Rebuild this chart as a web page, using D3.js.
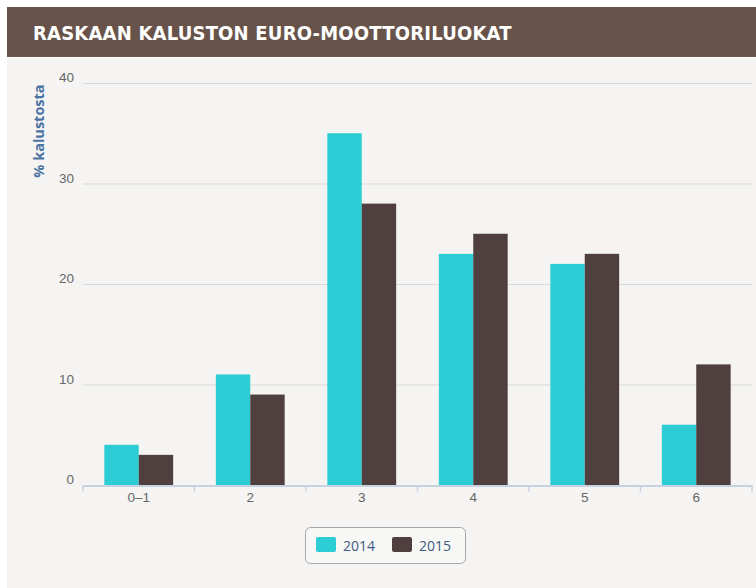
<!DOCTYPE html>
<html lang="fi">
<head>
<meta charset="UTF-8">
<title>Raskaan kaluston euro-moottoriluokat</title>
<script src="https://d3js.org/d3.v7.min.js"></script>
<style>
  body { margin: 0; background: #fff; font-family: "Open Sans", sans-serif; }
  .grid line { stroke: #d9d9d9; }
  .tick text { fill: #666; font-size: 13.5px; }
</style>
</head>
<body>
<script>
var categories = ["0–1", "2", "3", "4", "5", "6"];
var series = ["2014", "2015"];
var values2014 = [4, 11, 35, 23, 22, 6];
var values2015 = [3, 9, 28, 25, 23, 12];
var yTicks = [0, 10, 20, 30, 40];
var colors = ["#2ccdd4", "#4f3f3e"];

var width = 756, height = 588;
var svg = d3.select("body").append("svg")
    .attr("width", width)
    .attr("height", height);

// panels
svg.append("rect").attr("x", 7).attr("y", 58).attr("width", width - 7).attr("height", height - 58)
    .attr("fill", "#f5f4f2");
svg.append("rect").attr("x", 7).attr("y", 7).attr("width", width - 7).attr("height", 50)
    .attr("fill", "#67534a");
svg.append("text").attr("x", 33).attr("y", 40)
    .attr("fill", "#fff")
    .style("font-family", "'DejaVu Sans Condensed', 'DejaVu Sans', sans-serif")
    .style("font-weight", "bold")
    .style("font-size", "20px")
    .style("letter-spacing", "0.2px")
    .text("RASKAAN KALUSTON EURO-MOOTTORILUOKAT");

var margin = { left: 83, right: 4, top: 83, bottom: 103 };
var x0 = d3.scaleBand().domain(categories)
    .range([margin.left, width - margin.right]).paddingInner(0).paddingOuter(0);
var x1 = d3.scaleBand().domain(series)
    .range([0, x0.bandwidth()]).paddingInner(0).paddingOuter(0.62);
var y = d3.scaleLinear().domain([0, 40]).range([height - margin.bottom, margin.top]);

// gridlines
svg.append("g").attr("class", "grid")
    .selectAll("line").data(yTicks.filter(function(d) { return d > 0; })).enter()
    .append("line")
    .attr("x1", margin.left).attr("x2", width - margin.right)
    .attr("y1", function(d) { return y(d) + 0.5; })
    .attr("y2", function(d) { return y(d) + 0.5; });

// y axis labels
var yAxis = svg.append("g").attr("transform", "translate(" + margin.left + ",0)")
    .call(d3.axisLeft(y).tickValues(yTicks).tickSize(0).tickPadding(9));
yAxis.select(".domain").remove();
yAxis.selectAll("text").attr("dy", "-0.1em");

svg.append("text")
    .attr("transform", "translate(44,131) rotate(-90)")
    .attr("text-anchor", "middle")
    .attr("fill", "#4a72a3")
    .style("font-weight", "bold")
    .style("font-size", "14.5px")
    .text("% kalustosta");

// bars
var rows = categories.map(function(c, i) {
    return { cat: c, vals: [values2014[i], values2015[i]] };
});
var groups = svg.append("g").selectAll("g").data(rows).enter().append("g")
    .attr("transform", function(d) { return "translate(" + x0(d.cat) + ",0)"; });
groups.selectAll("rect").data(function(d) {
        return d.vals.map(function(v, j) { return { s: series[j], v: v, c: colors[j] }; });
    }).enter().append("rect")
    .attr("x", function(d) { return x1(d.s); })
    .attr("width", x1.bandwidth())
    .attr("y", function(d) { return y(d.v); })
    .attr("height", function(d) { return y(0) - y(d.v); })
    .attr("fill", function(d) { return d.c; });

// x axis
var xAxis = svg.append("g").attr("transform", "translate(0," + (y(0) + 0.5) + ")")
    .call(d3.axisBottom(x0).tickSize(0).tickPadding(6));
xAxis.select(".domain").attr("stroke", "#c5d2e2").attr("stroke-width", 2);
xAxis.selectAll(".tick text").attr("dy", "0.75em");
xAxis.selectAll(".sep").data(d3.range(categories.length + 1)).enter().append("line")
    .attr("class", "sep")
    .attr("x1", function(i) { return margin.left + i * x0.step(); })
    .attr("x2", function(i) { return margin.left + i * x0.step(); })
    .attr("y1", 0).attr("y2", 6)
    .attr("stroke", "#c5d2e2").attr("stroke-width", 1.5);

// legend
var legend = svg.append("g").attr("transform", "translate(305,527)");
legend.append("rect").attr("x", 0.5).attr("y", 0.5).attr("width", 160).attr("height", 36)
    .attr("rx", 5).attr("fill", "#f7f7f6").attr("stroke", "#a8a8a8");
series.forEach(function(s, i) {
    var lx = 11 + i * 76;
    legend.append("rect").attr("x", lx).attr("y", 10).attr("width", 20).attr("height", 15)
        .attr("rx", 2).attr("fill", colors[i]);
    legend.append("text").attr("x", lx + 27).attr("y", 24)
        .attr("fill", "#3d5a80").style("font-size", "14px").text(s);
});
</script>
</body>
</html>
